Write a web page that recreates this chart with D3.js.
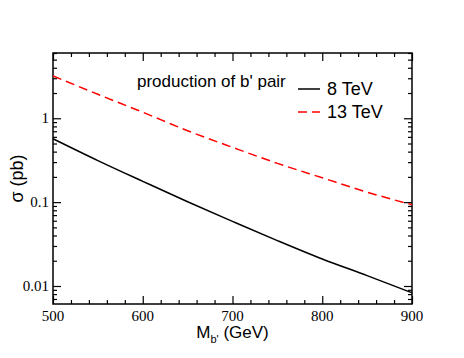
<!DOCTYPE html>
<meta charset="utf-8">
<style>
  body { margin: 0; background: #fff; }
</style>
<body>
<script src="https://d3js.org/d3.v7.min.js"></script>
<script>

// masses (GeV)
var mass = [500, 550, 600, 650, 700, 750, 800, 850, 900];
// cross sections (pb)
var sigma8 = [0.57, 0.313, 0.177, 0.101, 0.059, 0.0348, 0.021, 0.0133, 0.0083];
var sigma13 = [3.2, 1.93, 1.18, 0.71, 0.45, 0.29, 0.195, 0.1315, 0.093];
var xTicks = [500, 600, 700, 800, 900];
var yTicks = [0.01, 0.1, 1];
var seriesNames = ["8 TeV", "13 TeV"];

var serif = "Liberation Serif";
var sans = "Liberation Sans";

var W = 464, H = 358;
var margin = { top: 53, right: 52, bottom: 54, left: 53 };
var width = W - margin.left - margin.right,
    height = H - margin.top - margin.bottom;

var svg = d3.select("body").append("svg")
  .attr("width", W).attr("height", H);
var g = svg.append("g")
  .attr("transform", "translate(" + margin.left + "," + margin.top + ")");

var x = d3.scaleLinear().domain([500, 900]).range([0, width]);
var y = d3.scaleLog().domain([0.0061, 6]).range([height, 0]);

// minor ticks
var xMinor = d3.range(500, 901, 20).filter(function (v) { return xTicks.indexOf(v) < 0; });
var yMinor = [];
[0.001, 0.01, 0.1, 1].forEach(function (d) {
  for (var k = 2; k <= 9; k++) {
    var v = d * k;
    if (v >= 0.0061 && v <= 6) yMinor.push(v);
  }
});

function tickAxis(axisFn, scale, vals, size) {
  return axisFn(scale).tickValues(vals).tickSizeInner(size).tickSizeOuter(0).tickFormat("");
}

// inward ticks: bottom and top
g.append("g").attr("transform", "translate(0," + height + ")")
  .call(tickAxis(d3.axisTop, x, xTicks, 8));
g.append("g").attr("transform", "translate(0," + height + ")")
  .call(tickAxis(d3.axisTop, x, xMinor, 4));
g.append("g").call(tickAxis(d3.axisBottom, x, xTicks, 8));
g.append("g").call(tickAxis(d3.axisBottom, x, xMinor, 4));
// left and right
g.append("g").call(tickAxis(d3.axisRight, y, yTicks, 8));
g.append("g").call(tickAxis(d3.axisRight, y, yMinor, 4));
g.append("g").attr("transform", "translate(" + width + ",0)")
  .call(tickAxis(d3.axisLeft, y, yTicks, 8));
g.append("g").attr("transform", "translate(" + width + ",0)")
  .call(tickAxis(d3.axisLeft, y, yMinor, 4));

g.selectAll(".domain").remove();
g.selectAll(".tick line").attr("stroke", "#000").attr("stroke-width", 1.2);

// frame
g.append("rect")
  .attr("width", width).attr("height", height)
  .attr("fill", "none").attr("stroke", "#000").attr("stroke-width", 1.5);

// tick labels
g.selectAll(".xlab").data(xTicks).enter().append("text")
  .style("font-family", serif).style("font-size", "15px")
  .attr("x", function (d) { return x(d); })
  .attr("y", height + 17)
  .attr("text-anchor", "middle")
  .text(function (d) { return d; });

g.selectAll(".ylab").data(yTicks).enter().append("text")
  .style("font-family", serif).style("font-size", "15px")
  .attr("x", -4)
  .attr("y", function (d) { return y(d) + 5; })
  .attr("text-anchor", "end")
  .text(function (d) { return d; });

// curves
var line = d3.line()
  .x(function (d) { return x(d[0]); })
  .y(function (d) { return y(d[1]); })
  .curve(d3.curveMonotoneX);

g.append("path")
  .datum(d3.zip(mass, sigma8))
  .attr("d", line)
  .attr("fill", "none").attr("stroke", "#000").attr("stroke-width", 1.5);

g.append("path")
  .datum(d3.zip(mass, sigma13))
  .attr("d", line)
  .attr("fill", "none").attr("stroke", "#ff0000").attr("stroke-width", 1.5)
  .attr("stroke-dasharray", "9,5");

// axis titles
svg.append("text")
  .style("font-family", sans).style("font-size", "18px")
  .attr("transform", "translate(23," + (margin.top + height / 2) + ") rotate(-90)")
  .attr("text-anchor", "middle")
  .text("σ (pb)");

var xt = svg.append("text")
  .style("font-family", sans).style("font-size", "17px")
  .attr("x", margin.left + width / 2)
  .attr("y", 338)
  .attr("text-anchor", "middle");
xt.append("tspan").text("M");
xt.append("tspan").style("font-size", "11px").attr("dy", 5).text("b'");
xt.append("tspan").attr("dy", -5).text(" (GeV)");

// legend
var leg = svg.append("g").style("font-family", sans);
leg.append("text")
  .attr("x", 137).attr("y", 87)
  .style("font-size", "17px")
  .text("production of b' pair");

var legY = [89, 112];
seriesNames.forEach(function (name, i) {
  leg.append("line")
    .attr("x1", 298).attr("x2", 320)
    .attr("y1", legY[i]).attr("y2", legY[i])
    .attr("stroke", i === 0 ? "#000" : "#ff0000")
    .attr("stroke-width", 1.5)
    .attr("stroke-dasharray", i === 0 ? null : "9,5");
  leg.append("text")
    .attr("x", 327).attr("y", legY[i] + 6)
    .style("font-size", "18px")
    .text(name);
});

</script>
</body>
